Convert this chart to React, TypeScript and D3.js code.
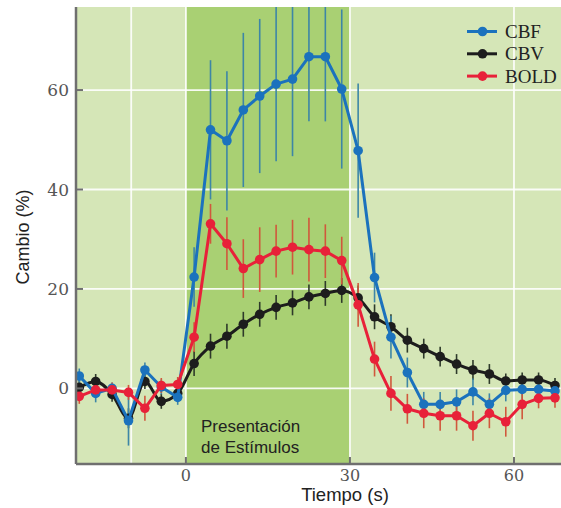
import * as d3 from 'd3';

// tiempo (s) de cada muestra
const tiempos = [-19.5, -16.5, -13.5, -10.5, -7.5, -4.5, -1.5, 1.5, 4.5, 7.5, 10.5, 13.5, 16.5, 19.5, 22.5,
  25.5, 28.5, 31.5, 34.5, 37.5, 40.5, 43.5, 46.5, 49.5, 52.5, 55.5, 58.5, 61.5, 64.5, 67.5];

const cbf = [2.5, -1, 0, -6.5, 3.7, 0.3, -1.8, 22.4, 52, 49.8, 56, 58.8, 61.2, 62.2, 66.7,
  66.7, 60.2, 47.8, 22.3, 10.3, 3.2, -3.2, -3.2, -2.7, -0.7, -3.2, -0.4, -0.2, -0.2, -0.5];
const cbfErr = [1.5, 1.8, 1.2, 5, 1.5, 1.5, 1.5, 6, 14, 14, 15.5, 15.5, 15.5, 15.5, 13,
  13, 16, 13.5, 5, 4.3, 3, 2.5, 2.5, 2.5, 2.7, 2.2, 2.2, 2, 2, 2];

const cbv = [0.2, 1.4, -1.2, -6, 1.4, -2.6, -1, 5, 8.5, 10.5, 12.9, 14.9, 16.3, 17.2, 18.4,
  19.1, 19.7, 18.2, 14.4, 12.4, 9.7, 8, 6.4, 4.9, 3.7, 2.9, 1.5, 1.7, 1.7, 0.6];
const cbvErr = [1.5, 1.5, 1.5, 2, 1.5, 1.5, 1.5, 2.5, 2.5, 2.5, 2.5, 2.5, 2.5, 2.5, 2.5,
  2.5, 2.5, 2.5, 2.5, 2.5, 2.5, 2, 2, 2, 2, 2, 1.5, 1.5, 1.5, 1.5];

const bold = [-1.6, -0.3, -0.3, -0.8, -4, 0.6, 0.8, 10.3, 33.1, 29.1, 24.1, 25.9, 27.6, 28.4, 27.9,
  27.6, 25.7, 16.8, 5.9, -1, -4.1, -5, -5.5, -5.5, -7.5, -5, -6.7, -3.2, -2, -1.9];
const boldErr = [1.5, 1.5, 1.5, 1.5, 2.5, 1.5, 1.5, 3, 4, 5.3, 5.9, 6.5, 5.3, 5.5, 6.4,
  5.4, 4.8, 4.4, 3.5, 3.5, 3, 3, 3, 3, 3, 3, 3, 3, 2, 2];

const yTicks = [0, 20, 40, 60];
const xTicks = [0, 30, 60];
const xGrid = [-10, 0, 30, 60];
const estimulo = [0, 30];

const series = [
  { name: 'CBV', values: cbv, err: cbvErr, color: '#1d1d1d', errColor: '#2e3a2a', curve: d3.curveMonotoneX },
  { name: 'CBF', values: cbf, err: cbfErr, color: '#1b72bd', errColor: '#3d86a6', curve: d3.curveLinear },
  { name: 'BOLD', values: bold, err: boldErr, color: '#e82139', errColor: '#d0583c', curve: d3.curveLinear },
];
const legendOrder = ['CBF', 'CBV', 'BOLD'];

const width = 561;
const height = 508;
const plot = { left: 76, right: 561, top: 7, bottom: 464 };

export default function App() {
  const x = d3.scaleLinear().domain([-20.1, 68.6]).range([plot.left, plot.right]);
  const y = d3.scaleLinear().domain([-15.2, 76.7]).range([plot.bottom, plot.top]);

  const serif = "'DejaVu Serif', 'Liberation Serif', serif";
  const sans = "'Liberation Sans', Arial, sans-serif";

  return (
    <svg width={width} height={height} style={{ position: 'absolute', left: 0, top: 0, display: 'block' }}>
      <defs>
        <clipPath id="area">
          <rect x={plot.left} y={plot.top} width={plot.right - plot.left} height={plot.bottom - plot.top} />
        </clipPath>
      </defs>
      <rect x={0} y={0} width={width} height={height} fill="#ffffff" />
      <rect x={plot.left} y={plot.top} width={plot.right - plot.left} height={plot.bottom - plot.top} fill="#d5e6b7" />
      <rect x={x(estimulo[0])} y={plot.top} width={x(estimulo[1]) - x(estimulo[0])} height={plot.bottom - plot.top} fill="#a9d073" />

      {/* rejilla */}
      {yTicks.map(t => (
        <line key={'gy' + t} x1={plot.left} x2={plot.right} y1={y(t)} y2={y(t)} stroke="#ffffff" strokeWidth={1.8} opacity={0.9} />
      ))}
      {xGrid.map(t => (
        <line key={'gx' + t} x1={x(t)} x2={x(t)} y1={plot.top} y2={plot.bottom} stroke="#ffffff" strokeWidth={1.8} opacity={0.9} />
      ))}

      <text x={201} y={432} fontFamily={sans} fontSize={17} fill="#222">Presentación</text>
      <text x={201} y={453} fontFamily={sans} fontSize={17} fill="#222">de Estímulos</text>

      <g clipPath="url(#area)">
        {series.map(s => (
          <g key={'e' + s.name}>
            {tiempos.map((t, i) => (
              <line key={i} x1={x(t)} x2={x(t)} y1={y(s.values[i] - s.err[i])} y2={y(s.values[i] + s.err[i])}
                stroke={s.errColor} strokeWidth={1.6} />
            ))}
          </g>
        ))}
        {series.map(s => {
          const line = d3.line<number>().x((_, i) => x(tiempos[i])).y(v => y(v)).curve(s.curve);
          return (
            <g key={'l' + s.name}>
              <path d={line(s.values) || ''} fill="none" stroke={s.color} strokeWidth={3} strokeLinejoin="round" />
              {s.values.map((v, i) => (
                <circle key={i} cx={x(tiempos[i])} cy={y(v)} r={4.8} fill={s.color} />
              ))}
            </g>
          );
        })}
      </g>

      {/* ejes */}
      <line x1={plot.left} x2={plot.left} y1={plot.top} y2={plot.bottom} stroke="#6f6f6f" strokeWidth={2.5} />
      <line x1={plot.left} x2={plot.right} y1={plot.bottom} y2={plot.bottom} stroke="#6f6f6f" strokeWidth={2.5} />
      {yTicks.map(t => (
        <g key={'ty' + t}>
          <line x1={plot.left} x2={plot.left + 7} y1={y(t)} y2={y(t)} stroke="#6f6f6f" strokeWidth={2} />
          <text x={plot.left - 7} y={y(t) + 6} textAnchor="end" fontFamily={serif} fontSize={17} fill="#555">{t}</text>
        </g>
      ))}
      {xTicks.map(t => (
        <g key={'tx' + t}>
          <line x1={x(t)} x2={x(t)} y1={plot.bottom} y2={plot.bottom - 7} stroke="#6f6f6f" strokeWidth={2} />
          <text x={x(t)} y={481} textAnchor="middle" fontFamily={serif} fontSize={16} fill="#555">{t}</text>
        </g>
      ))}

      <text x={345} y={501} textAnchor="middle" fontFamily={sans} fontSize={18.5} fill="#222">Tiempo (s)</text>
      <text transform="translate(29,237) rotate(-90)" textAnchor="middle" fontFamily={sans} fontSize={18} fill="#222">Cambio (%)</text>

      {/* leyenda */}
      {legendOrder.map((n, i) => {
        const s = series.find(d => d.name === n)!;
        const ly = 31.5 + i * 22.3;
        return (
          <g key={'lg' + n}>
            <line x1={467} x2={497} y1={ly} y2={ly} stroke={s.color} strokeWidth={3} />
            <circle cx={482.5} cy={ly} r={4.8} fill={s.color} />
            <text x={505} y={ly + 6.5} fontFamily="'Liberation Serif', serif" fontSize={19} fill="#222">{n}</text>
          </g>
        );
      })}
    </svg>
  );
}
